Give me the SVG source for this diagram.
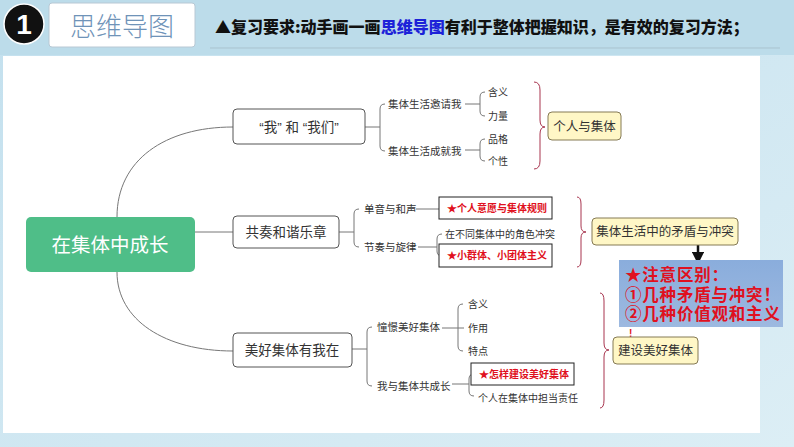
<svg xmlns="http://www.w3.org/2000/svg" width="794" height="447" viewBox="0 0 794 447">
<defs>
<linearGradient id="bg" x1="0" y1="0" x2="1" y2="1">
<stop offset="0" stop-color="#c3e0ee"/>
<stop offset="1" stop-color="#dceef5"/>
</linearGradient>
<linearGradient id="note" x1="0" y1="0" x2="0" y2="1">
<stop offset="0" stop-color="#8aaddc"/>
<stop offset="1" stop-color="#9db9e0"/>
</linearGradient>
<marker id="arr" viewBox="0 0 10 10" refX="5" refY="5" markerWidth="5" markerHeight="5" orient="auto">
<path d="M0,0 L10,5 L0,10 Z" fill="#111"/>
</marker>
<style>
.t{font-family:"Liberation Sans","Noto Sans CJK SC",sans-serif;fill:#333}
.n{font-size:13.5px;text-anchor:middle}
.s{font-size:10.5px}
.xs{font-size:10px}
.red{font-size:10px;font-weight:bold;fill:#e01020}
.node{fill:#fff;stroke:#555;stroke-width:1}
.ln{fill:none;stroke:#777;stroke-width:1}
.br{fill:none;stroke:#a8354f;stroke-width:1}
.yb{fill:#fff7c6;stroke:#857a55;stroke-width:1}
.rb{fill:#fff;stroke:#222;stroke-width:1}
</style>
</defs>
<rect width="794" height="447" fill="url(#bg)"/>
<rect x="0" y="0" width="794" height="55" fill="#bcdcea"/>
<rect x="3" y="56" width="757" height="377" fill="#fff"/>
<line x1="210" y1="48" x2="780" y2="48" stroke="#a9c3cf" stroke-width="1"/>

<g id="header">
<circle cx="24" cy="24" r="20" fill="#111" stroke="#fff" stroke-width="1.5"/>
<text x="24" y="34" text-anchor="middle" font-family="Liberation Sans,sans-serif" font-weight="bold" font-size="28" fill="#fff">1</text>
<rect x="49" y="3" width="146" height="44" rx="3" fill="#fff" stroke="#b8c8d4"/>
<text x="122" y="36" text-anchor="middle" font-family="Noto Sans CJK SC,sans-serif" font-size="26" font-weight="300" fill="#6f93b8">思维导图</text>
<text x="215" y="33" font-family="Noto Sans CJK SC,sans-serif" font-size="16" font-weight="900" fill="#111">▲复习要求:动手画一画<tspan fill="#1c22d8">思维导图</tspan>有利于整体把握知识，是有效的复习方法；</text>
</g>

<g id="connectors">
<path class="ln" d="M117,217 C117,160 165,127 233,127"/>
<line class="ln" x1="195" y1="232" x2="233" y2="232"/>
<path class="ln" d="M117,272 C117,320 165,351 233,351"/>
<line class="ln" x1="365" y1="127" x2="380" y2="127"/>
<path class="ln" d="M385,104 Q380,104 380,109 L380,146 Q380,151 385,151"/>
<line class="ln" x1="465" y1="104" x2="480" y2="104"/>
<path class="ln" d="M485,92 Q480,92 480,97 L480,111 Q480,116 485,116"/>
<line class="ln" x1="465" y1="150" x2="480" y2="150"/>
<path class="ln" d="M485,139 Q480,139 480,144 L480,156 Q480,161 485,161"/>
<line class="ln" x1="339" y1="232" x2="354" y2="232"/>
<path class="ln" d="M359,209 Q354,209 354,214 L354,242 Q354,247 359,247"/>
<line class="ln" x1="416" y1="209" x2="439" y2="209"/>
<line class="ln" x1="418" y1="247" x2="437" y2="247"/>
<path class="ln" d="M442,234 Q437,234 437,239 L437,251 Q437,256 442,256"/>
<line class="ln" x1="352" y1="349" x2="367" y2="349"/>
<path class="ln" d="M372,327 Q367,327 367,332 L367,381 Q367,386 372,386"/>
<line class="ln" x1="442" y1="328" x2="464" y2="328"/>
<path class="ln" d="M463,304 Q458,304 458,309 L458,346 Q458,351 463,351"/>
<line class="ln" x1="452" y1="384" x2="469" y2="384"/>
<path class="ln" d="M474,374 Q469,374 469,379 L469,391 Q469,396 474,396"/>
<path class="br" d="M534,82 Q540,82 540,90 L540,120 Q540,127 545,127 Q540,127 540,134 L540,161 Q540,169 534,169"/>
<path class="br" d="M577,197 Q581,197 581,204 L581,226 Q581,232 586,232 Q581,232 581,238 L581,260 Q581,267 577,267"/>
<path class="br" d="M600,293 Q604,293 604,301 L604,343 Q604,350 609,350 Q604,350 604,357 L604,400 Q604,408 600,408"/>
<line x1="698" y1="245" x2="698" y2="258" stroke="#111" stroke-width="2.5" marker-end="url(#arr)"/>
</g>

<g id="root">
<rect x="26" y="217" width="169" height="55" rx="5" fill="#4fbe88"/>
<text x="110" y="252" text-anchor="middle" font-family="Noto Sans CJK SC,sans-serif" font-size="19.5" fill="#fff">在集体中成长</text>
</g>

<g id="n1">
<rect class="node" x="233" y="109" width="132" height="35" rx="4"/>
<text class="t n" x="299" y="132">“我” 和 “我们”</text>
<text class="t s" x="388" y="108">集体生活邀请我</text>
<text class="t s" x="388" y="155">集体生活成就我</text>
<text class="t xs" x="488" y="96">含义</text>
<text class="t xs" x="488" y="120">力量</text>
<text class="t xs" x="488" y="143">品格</text>
<text class="t xs" x="488" y="165">个性</text>
</g>

<g id="n2">
<rect class="node" x="233" y="216" width="106" height="32" rx="4"/>
<text class="t n" x="286" y="237">共奏和谐乐章</text>
<text class="t s" x="364" y="213">单音与和声</text>
<text class="t s" x="364" y="251">节奏与旋律</text>
<rect class="rb" x="439" y="197" width="113" height="22"/>
<text class="t red" x="447" y="212">★个人意愿与集体规则</text>
<text class="t xs" x="445" y="238">在不同集体中的角色冲突</text>
<rect class="rb" x="439" y="244" width="113" height="23"/>
<text class="t red" x="447" y="259">★小群体、小团体主义</text>
</g>

<g id="n3">
<rect class="node" x="233" y="333" width="119" height="34" rx="4"/>
<text class="t n" x="292" y="355">美好集体有我在</text>
<text class="t s" x="377" y="331">憧憬美好集体</text>
<text class="t s" x="377" y="390">我与集体共成长</text>
<text class="t xs" x="468" y="308">含义</text>
<text class="t xs" x="468" y="332">作用</text>
<text class="t xs" x="468" y="355">特点</text>
<rect class="rb" x="471" y="363" width="103" height="22"/>
<text class="t red" x="479" y="378">★怎样建设美好集体</text>
<text class="t xs" x="478" y="402">个人在集体中担当责任</text>
</g>

<g id="s1">
<rect class="yb" x="548" y="112" width="73" height="28" rx="4"/>
<text class="t" x="584.5" y="131" text-anchor="middle" font-size="12.5" fill="#111">个人与集体</text>
</g>

<g id="s2">
<rect class="yb" x="592" y="218" width="146" height="27" rx="4"/>
<text class="t" x="665" y="236" text-anchor="middle" font-size="12.5" fill="#111">集体生活中的矛盾与冲突</text>
</g>

<g id="note">
<text x="629" y="337" font-family="Liberation Sans,sans-serif" font-size="10" font-weight="bold" fill="#e01020">!</text>
<rect x="619" y="260" width="164" height="67" fill="url(#note)"/>
<g font-family="Liberation Sans,Noto Sans CJK SC,sans-serif" font-size="16.5" font-weight="bold" fill="#e01020" letter-spacing="0.8">
<text x="625" y="281">★注意区别：</text>
<text x="625" y="301">①几种矛盾与冲突！</text>
<text x="625" y="320">②几种价值观和主义</text>
</g>
</g>

<g id="s3">
<rect class="yb" x="613" y="337" width="85" height="27" rx="4"/>
<text class="t" x="655.5" y="355" text-anchor="middle" font-size="12.5" fill="#111">建设美好集体</text>
</g>
</svg>
